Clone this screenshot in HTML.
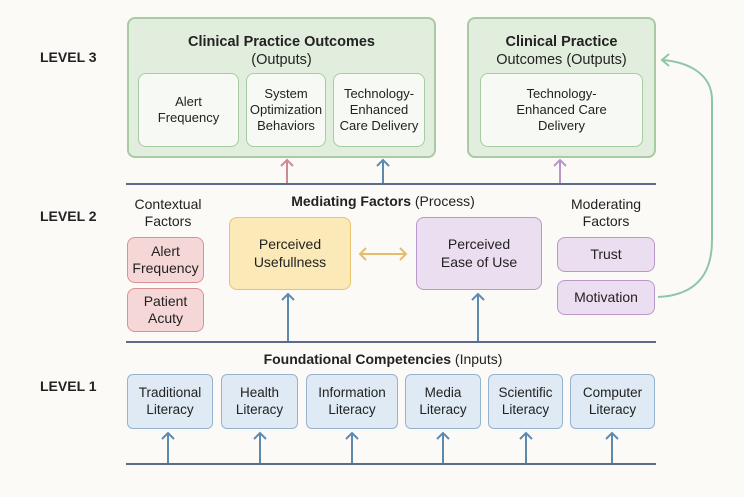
<!DOCTYPE html><html><head><style>
body{margin:0;width:744px;height:497px;background:#fbfaf7;position:relative;overflow:hidden;font-family:"Liberation Sans",sans-serif;color:#222}
.a{position:absolute;box-sizing:border-box;display:flex;align-items:center;justify-content:center;text-align:center;line-height:1.25}
.g{background:#e2eedd;border:2px solid #a8cba3;border-radius:8px}
.w{background:#f7faf4;border:1.5px solid #a8cba3;border-radius:8px;font-size:13px}
.r{background:#f6d7d7;border:1.5px solid #dc8f93;border-radius:8px;font-size:14px}
.p{background:#ebdef0;border:1.5px solid #bb98c9;border-radius:8px;font-size:14px}
.b{background:#dfeaf4;border:1.5px solid #95b3cf;border-radius:6px;font-size:13.5px}
.t{font-size:14px}
.lv{position:absolute;left:40px;font-weight:bold;font-size:14px}
</style></head><body>
<div class="a g" style="left:127px;top:17px;width:309px;height:141px;align-items:flex-start;padding-top:14px;font-size:14.5px"><div><b>Clinical Practice Outcomes</b><br>(Outputs)</div></div>
<div class="a w" style="left:138px;top:73px;width:101px;height:74px">Alert<br>Frequency</div>
<div class="a w" style="left:246px;top:73px;width:80px;height:74px">System<br>Optimization<br>Behaviors</div>
<div class="a w" style="left:333px;top:73px;width:92px;height:74px">Technology-<br>Enhanced<br>Care Delivery</div>
<div class="a g" style="left:467px;top:17px;width:189px;height:141px;align-items:flex-start;padding-top:14px;font-size:14.5px"><div><b>Clinical Practice</b><br>Outcomes (Outputs)</div></div>
<div class="a w" style="left:480px;top:73px;width:163px;height:74px">Technology-<br>Enhanced Care<br>Delivery</div>
<div class="lv" style="top:49px">LEVEL 3</div>
<div class="lv" style="top:208px">LEVEL 2</div>
<div class="lv" style="top:378px">LEVEL 1</div>
<div class="a t" style="left:118px;top:194px;width:100px;height:38px">Contextual<br>Factors</div>
<div class="a t" style="left:230px;top:192px;width:306px;height:20px"><span><b>Mediating Factors</b> (Process)</span></div>
<div class="a t" style="left:556px;top:194px;width:100px;height:38px">Moderating<br>Factors</div>
<div class="a r" style="left:127px;top:237px;width:77px;height:46px">Alert<br>Frequency</div>
<div class="a r" style="left:127px;top:288px;width:77px;height:44px">Patient<br>Acuty</div>
<div class="a" style="left:229px;top:217px;width:122px;height:73px;background:#fbeab7;border:1.5px solid #e7c46c;border-radius:8px;font-size:14px">Perceived<br>Usefullness</div>
<div class="a p" style="left:416px;top:217px;width:126px;height:73px">Perceived<br>Ease of Use</div>
<div class="a p" style="left:557px;top:237px;width:98px;height:35px">Trust</div>
<div class="a p" style="left:557px;top:280px;width:98px;height:35px">Motivation</div>
<div class="a t" style="left:200px;top:350px;width:366px;height:20px"><span><b>Foundational Competencies</b> (Inputs)</span></div>
<div class="a b" style="left:127px;top:374px;width:86px;height:55px">Traditional<br>Literacy</div>
<div class="a b" style="left:221px;top:374px;width:77px;height:55px">Health<br>Literacy</div>
<div class="a b" style="left:306px;top:374px;width:92px;height:55px">Information<br>Literacy</div>
<div class="a b" style="left:405px;top:374px;width:76px;height:55px">Media<br>Literacy</div>
<div class="a b" style="left:488px;top:374px;width:75px;height:55px">Scientific<br>Literacy</div>
<div class="a b" style="left:570px;top:374px;width:85px;height:55px">Computer<br>Literacy</div>
<svg style="position:absolute;left:0;top:0" width="744" height="497" fill="none" stroke-width="2">
<g stroke="#5b6b88"><line x1="126" y1="184" x2="656" y2="184"/><line x1="126" y1="342" x2="656" y2="342"/><line x1="126" y1="464" x2="656" y2="464"/></g>
<g stroke="#5e89ae">
<path d="M383 183V160M377 166l6-6 6 6"/>
<path d="M288 341V294M282 300l6-6 6 6"/><path d="M478 341V294M472 300l6-6 6 6"/>
<path d="M168 463V433M162 439l6-6 6 6"/><path d="M260 463V433M254 439l6-6 6 6"/><path d="M352 463V433M346 439l6-6 6 6"/><path d="M443 463V433M437 439l6-6 6 6"/><path d="M526 463V433M520 439l6-6 6 6"/><path d="M612 463V433M606 439l6-6 6 6"/>
</g>
<path stroke="#cd8a93" d="M287 183V160M281 166l6-6 6 6"/>
<path stroke="#b995c8" d="M560 183V160M554 166l6-6 6 6"/>
<path stroke="#e3bd6a" d="M360 254H406M366 248l-6 6 6 6M400 248l6 6-6 6"/>
<path stroke="#8fc6a6" d="M658 297C700 295 712 270 712 240V100C712 75 690 62 662 60M669 54l-7 6 7 6"/>
</svg>
</body></html>
